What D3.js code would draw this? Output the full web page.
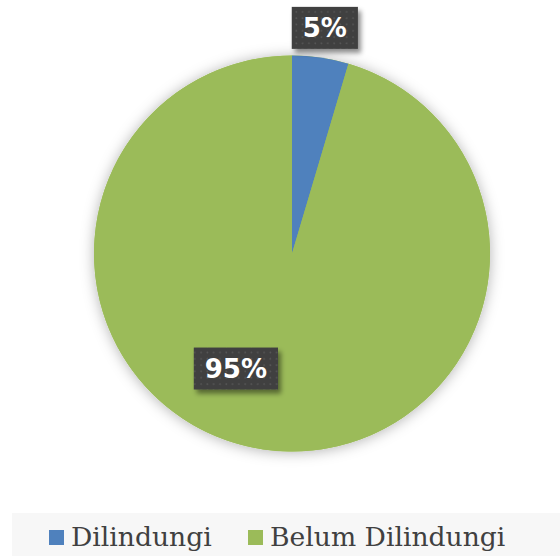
<!DOCTYPE html>
<html lang="en">
    <head>
        <meta charset="utf-8">
        <title>Dilindungi</title>
        <script type="text/javascript" src="https://d3js.org/d3.v7.min.js"></script>
        <style type="text/css">
            body { margin: 0; background: #ffffff; }
            .label text {
                font-family: "DejaVu Sans", sans-serif;
                font-weight: bold;
                font-size: 26px;
                fill: #ffffff;
            }
            .legend text {
                font-family: "DejaVu Serif", serif;
                font-size: 26.6px;
                fill: #404040;
            }
        </style>
    </head>
    <body>
        <script type="text/javascript">
            const width = 560;
            const height = 556;

            // data
            const categories = ["Dilindungi", "Belum Dilindungi"];
            const values = [4.6, 95.4];
            const colors = ["#4f81bd", "#9bbb59"];

            const cx = 292, cy = 253.5, radius = 198;

            // where each data label sits: radius from centre, angle in degrees (null = slice middle)
            const labelRadius = [228, 128];
            const labelAngle = [null, 206];

            const svg = d3.select("body")
                          .append("svg")
                          .attr("width", width)
                          .attr("height", height);

            const defs = svg.append("defs");

            const glow = defs.append("filter").attr("id", "glow")
                .attr("x", "-20%").attr("y", "-20%").attr("width", "140%").attr("height", "140%");
            glow.append("feDropShadow")
                .attr("dx", 0).attr("dy", 1)
                .attr("stdDeviation", 7)
                .attr("flood-color", "#000")
                .attr("flood-opacity", 0.3);

            const boxShadow = defs.append("filter").attr("id", "boxShadow")
                .attr("x", "-20%").attr("y", "-30%").attr("width", "150%").attr("height", "170%");
            boxShadow.append("feDropShadow")
                .attr("dx", 3).attr("dy", 4)
                .attr("stdDeviation", 2.5)
                .attr("flood-color", "#000")
                .attr("flood-opacity", 0.45);

            const dots = defs.append("pattern").attr("id", "dots")
                .attr("patternUnits", "userSpaceOnUse")
                .attr("width", 6.3).attr("height", 6.3);
            dots.append("rect").attr("width", 6.3).attr("height", 6.3).attr("fill", "#404040");
            dots.append("circle").attr("cx", 3).attr("cy", 3).attr("r", 0.9).attr("fill", "#575757");

            const pie = d3.pie().sort(null).value(d => d);
            const arcs = pie(values);

            const arc = d3.arc().innerRadius(0).outerRadius(radius);

            const g = svg.append("g").attr("transform", "translate(" + cx + "," + cy + ")");

            // soft shadow behind the whole pie
            g.append("circle").attr("r", radius).attr("fill", "#9bbb59").attr("filter", "url(#glow)");

            g.selectAll("path.slice")
                .data(arcs)
                .enter()
                .append("path")
                .attr("class", "slice")
                .attr("d", arc)
                .attr("fill", (d, i) => colors[i]);

            // data labels
            const fmt = d3.format(".0%");
            const total = d3.sum(values);

            const labels = g.selectAll("g.label")
                .data(arcs)
                .enter()
                .append("g")
                .attr("class", "label")
                .attr("transform", (d, i) => {
                    const a = labelAngle[i] === null ? (d.startAngle + d.endAngle) / 2 : labelAngle[i] * Math.PI / 180;
                    const x = Math.sin(a) * labelRadius[i];
                    const y = -Math.cos(a) * labelRadius[i];
                    return "translate(" + x + "," + y + ")";
                });

            labels.each(function(d) {
                const lg = d3.select(this);
                const t = lg.append("text")
                    .attr("text-anchor", "middle")
                    .attr("dy", "0.36em")
                    .text(fmt(d.data / total));
                const w = t.node().getComputedTextLength() + 22;
                lg.insert("rect", "text")
                    .attr("x", -w / 2).attr("y", -21)
                    .attr("width", w).attr("height", 42)
                    .attr("fill", "url(#dots)")
                    .attr("filter", "url(#boxShadow)");
            });

            // legend
            const legend = svg.append("g").attr("class", "legend");
            legend.append("rect")
                .attr("x", 12).attr("y", 513)
                .attr("width", width - 12).attr("height", height - 513)
                .attr("fill", "#f7f7f7");

            const legendX = [49, 248];
            const items = legend.selectAll("g.item")
                .data(categories)
                .enter()
                .append("g")
                .attr("class", "item")
                .attr("transform", (d, i) => "translate(" + legendX[i] + ",0)");
            items.append("rect")
                .attr("x", 0).attr("y", 530)
                .attr("width", 15).attr("height", 15)
                .attr("fill", (d, i) => colors[i]);
            items.append("text")
                .attr("x", 22).attr("y", 546)
                .text(d => d);
        </script>
    </body>
</html>
